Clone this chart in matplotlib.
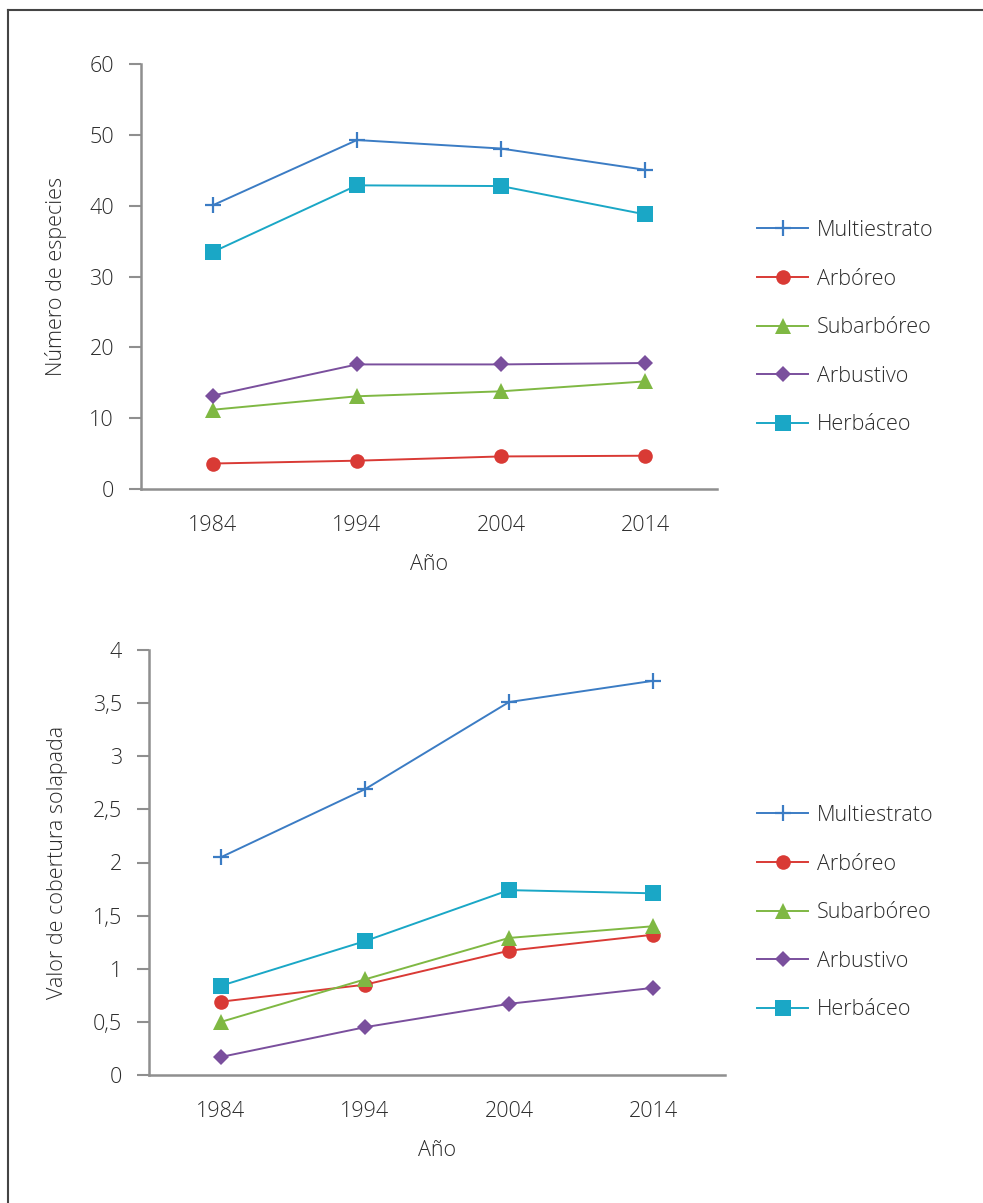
import matplotlib
matplotlib.use("Agg")
import matplotlib.pyplot as plt
from matplotlib.lines import Line2D
from matplotlib.ticker import FuncFormatter

plt.rcParams["font.family"] = ["Open Sans", "DejaVu Sans"]
plt.rcParams["font.weight"] = "light"
plt.rcParams["axes.labelweight"] = "light"

years = ["1984", "1994", "2004", "2014"]
series_names = ["Multiestrato", "Arbóreo", "Subarbóreo", "Arbustivo", "Herbáceo"]

# numero de especies por estrato
species_multi = [40.1, 49.3, 48.1, 45.1]
species_arboreo = [3.6, 4.0, 4.6, 4.7]
species_subarboreo = [11.2, 13.1, 13.8, 15.2]
species_arbustivo = [13.2, 17.6, 17.6, 17.8]
species_herbaceo = [33.5, 42.9, 42.8, 38.8]

# valor de cobertura solapada
cover_multi = [2.05, 2.69, 3.51, 3.71]
cover_arboreo = [0.69, 0.85, 1.17, 1.32]
cover_subarboreo = [0.50, 0.90, 1.29, 1.40]
cover_arbustivo = [0.17, 0.45, 0.67, 0.82]
cover_herbaceo = [0.84, 1.26, 1.74, 1.71]

species_ticks = [0, 10, 20, 30, 40, 50, 60]
cover_ticks = [0, 0.5, 1, 1.5, 2, 2.5, 3, 3.5, 4]

colors = ["#3b7cc4", "#d93a35", "#7fb843", "#7a4f9d", "#1aa7c6"]
markers = ["+", "o", "^", "D", "s"]
msizes = [11, 10.5, 11, 8.5, 11.5]

FS = 15.5
TXT = "#2b2b2b"
AX = "#8f8f8f"

W, H = 983, 1203
fig = plt.figure(figsize=(W / 100, H / 100), dpi=100)


def px_axes(left, top, right, bottom):
    return fig.add_axes([left / W, 1 - bottom / H, (right - left) / W, (bottom - top) / H])


def draw_panel(ax, values, ticks, ylabel, fmt, legend_top):
    x = range(len(years))
    handles = []
    for vals, name, c, m, ms in zip(values, series_names, colors, markers, msizes):
        (h,) = ax.plot(x, vals, color=c, lw=1.4, marker=m, ms=ms,
                       mew=1.6 if m == "+" else 0, label=name)
        handles.append(h)
    ax.set_xlim(-0.5, len(years) - 0.5)
    ax.set_ylim(ticks[0], ticks[-1])
    ax.set_xticks(list(x))
    ax.set_xticklabels(years)
    ax.set_yticks(ticks)
    ax.yaxis.set_major_formatter(FuncFormatter(fmt))
    for s in ["top", "right"]:
        ax.spines[s].set_visible(False)
    for s in ["left", "bottom"]:
        ax.spines[s].set_color(AX)
        ax.spines[s].set_linewidth(1.8)
    ax.tick_params(axis="y", length=8.5, width=1.5, color=AX, pad=11,
                   labelsize=FS, labelcolor=TXT)
    ax.tick_params(axis="x", length=0, pad=19, labelsize=FS, labelcolor=TXT)
    ax.set_ylabel(ylabel, fontsize=FS, color=TXT, va="center")
    ax.set_xlabel("Año", fontsize=FS, color=TXT, va="center")
    ax.legend(handles=handles, loc="upper left",
              bbox_to_anchor=(757 / W, 1 - legend_top / H),
              bbox_transform=fig.transFigure, frameon=False, fontsize=FS,
              handlelength=2.37, handletextpad=0.42, labelspacing=1.28,
              borderpad=0, borderaxespad=0, labelcolor=TXT)


ax1 = px_axes(141, 64.3, 717, 489)
draw_panel(ax1, [species_multi, species_arboreo, species_subarboreo,
                 species_arbustivo, species_herbaceo],
           species_ticks, "Número de especies", lambda v, p: f"{v:g}", 220)
ax1.yaxis.set_label_coords((56 - 141) / 576, 0.5)
ax1.xaxis.set_label_coords(0.5, -(565 - 489) / (489 - 64.3))

ax2 = px_axes(149, 650, 725, 1075)
draw_panel(ax2, [cover_multi, cover_arboreo, cover_subarboreo,
                 cover_arbustivo, cover_herbaceo],
           cover_ticks, "Valor de cobertura solapada",
           lambda v, p: f"{v:g}".replace(".", ","), 805)
ax2.yaxis.set_label_coords((58 - 149) / 576, 0.5)
ax2.xaxis.set_label_coords(0.5, -(1150 - 1075) / (1075 - 650))

# partial frame round the figure (top and left edges only)
fig.add_artist(Line2D([8 / W, 1], [1 - 10 / H, 1 - 10 / H], color="#444444", lw=1.5))
fig.add_artist(Line2D([8 / W, 8 / W], [0, 1 - 10 / H], color="#444444", lw=1.5))

fig.savefig("out.png", dpi=100)
